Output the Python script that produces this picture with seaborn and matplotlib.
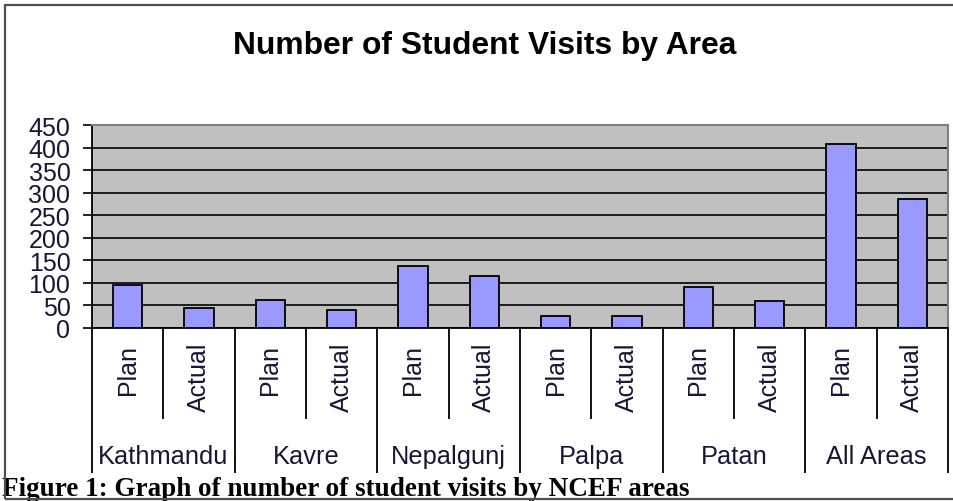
import matplotlib
matplotlib.use("Agg")
import matplotlib.pyplot as plt
import seaborn as sns
import pandas as pd
from matplotlib.patches import Rectangle

# ---- data ----
areas = ["Kathmandu", "Kavre", "Nepalgunj", "Palpa", "Patan", "All Areas"]
types = ["Plan", "Actual"]
plan_values = [96, 63, 138, 27, 90, 408]
actual_values = [45, 40, 116, 27, 59, 285]
y_ticks = [0, 50, 100, 150, 200, 250, 300, 350, 400, 450]
title = "Number of Student Visits by Area"
caption = "Figure 1: Graph of number of student visits by NCEF areas"

rows = []
for a, p, ac in zip(areas, plan_values, actual_values):
    rows.append({"key": f"{a} Plan", "area": a, "type": "Plan", "value": p})
    rows.append({"key": f"{a} Actual", "area": a, "type": "Actual", "value": ac})
df = pd.DataFrame(rows)

sns.set_theme(style="white")
plt.rcParams["font.family"] = ["Liberation Sans", "DejaVu Sans"]

W, H = 954, 502
fig = plt.figure(figsize=(W / 100, H / 100), dpi=100)
fig.patch.set_facecolor("white")

# plot area in pixels
L, R, T, B = 92, 948, 126, 329
ax = fig.add_axes([L / W, 1 - B / H, (R - L) / W, (B - T) / H])
ax.set_facecolor("#C0C0C0")

sns.barplot(data=df, x="key", y="value", order=list(df["key"]), color="#9999FF",
            saturation=1, edgecolor="black", linewidth=1.3, width=0.41, ax=ax, zorder=3)

ax.set_ylim(0, 450)
ax.set_xlim(-0.5, len(df) - 0.5)
ax.set_yticks(y_ticks)
ax.set_yticklabels([str(v) for v in y_ticks], fontsize=18, color="#161638")
ax.yaxis.grid(True, color="black", linewidth=1.2, zorder=1)
ax.set_axisbelow(True)
ax.set_xlabel("")
ax.set_ylabel("")
ax.tick_params(axis="x", length=0, labelbottom=False)
ax.tick_params(axis="y", length=6.5, width=1.2, color="black", pad=9, left=True, direction="out")

for s in ["left", "bottom"]:
    ax.spines[s].set_color("black")
    ax.spines[s].set_linewidth(1.3)
for s in ["top", "right"]:
    ax.spines[s].set_color("#808080")
    ax.spines[s].set_linewidth(1.5)

ph = B - T
def yfrac(ypx):
    return (B - ypx) / ph

tr = ax.get_xaxis_transform()
n = len(df)
for i in range(n + 1):
    xb = i - 0.5
    bottom = 474 if i % 2 == 0 else 420
    ax.plot([xb, xb], [0, yfrac(bottom)], transform=tr, clip_on=False,
            color="black", linewidth=1.3, solid_capstyle="butt")

for i, t in enumerate(df["type"]):
    yc = 370 if t == "Plan" else 377
    ax.text(i, yfrac(yc), t, transform=tr, rotation=90, ha="center", va="center",
            fontsize=18, color="#161638")

for g, a in enumerate(areas):
    ax.text(2 * g + 0.5, yfrac(457), a, transform=tr, ha="center", va="center",
            fontsize=18.3, color="#161638")

fig.text(485 / W, 1 - 46 / H, title, ha="center", va="center", fontsize=22.9,
         fontweight="bold", color="black")

fig.text(2 / W, 1 - 496 / H, caption, ha="left", va="baseline", fontsize=19.5,
         fontweight="bold", color="black", family=["Liberation Serif", "DejaVu Serif"])

# outer frame
fig.patches.append(Rectangle((5 / W, 1 - 500 / H), 1.2, (500 - 6) / H,
                             transform=fig.transFigure, fill=False,
                             edgecolor="#505050", linewidth=1.6, zorder=10))

fig.savefig("out.png", dpi=100)
